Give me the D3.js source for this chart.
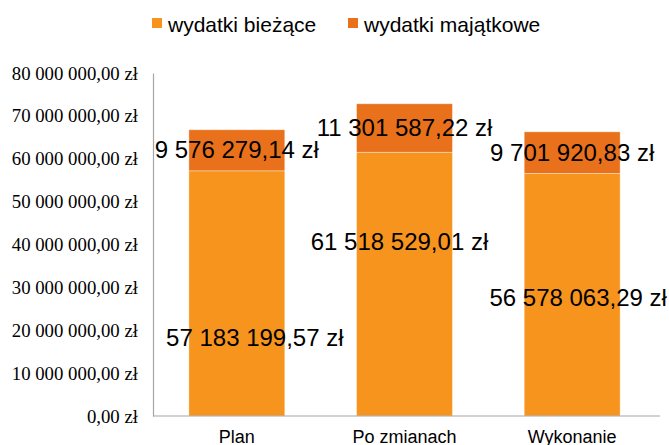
<!DOCTYPE html>
<html>
<head>
<meta charset="utf-8">
<script src="https://cdn.jsdelivr.net/npm/d3@7"></script>
<style>
  body { margin: 0; background: #fff; }
  svg { display: block; }
</style>
</head>
<body>
<svg id="chart"></svg>
<script>
// data
var categories = ["Plan", "Po zmianach", "Wykonanie"];
var seriesNames = ["wydatki bieżące", "wydatki majątkowe"];
var biezace = [57183199.57, 61518529.01, 56578063.29];
var majatkowe = [9576279.14, 11301587.22, 9701920.83];
var yTicks = [0, 10000000, 20000000, 30000000, 40000000, 50000000, 60000000, 70000000, 80000000];

// the labels of the bottom segment were moved by hand in the original (px)
var biezaceNudge = [[18, 45], [-5, -42], [6, 3]];

var colors = ["#F7941E", "#EA711B"];

var screen = {width: 669, height: 445};
var margins = {top: 73, left: 153, right: 13, bottom: 29};
var graph = {
    width: screen.width - margins.left - margins.right,
    height: screen.height - margins.top - margins.bottom
};

var pl = d3.formatLocale({decimal: ",", thousands: "\u00a0", grouping: [3], currency: ["", " zł"]});
var money = pl.format("$,.2f");

var svg = d3.select("#chart")
    .attr("width", screen.width)
    .attr("height", screen.height);

var xScale = d3.scaleBand()
    .domain(categories)
    .range([margins.left, margins.left + graph.width])
    .paddingInner(0.428)
    .paddingOuter(0.214);

var yScale = d3.scaleLinear()
    .domain([0, 80000000])
    .range([margins.top + graph.height, margins.top]);

// stacked data
var rows = categories.map(function(c, i) {
    return {cat: c, biezace: biezace[i], majatkowe: majatkowe[i]};
});
var stack = d3.stack().keys(["biezace", "majatkowe"]);
var layers = stack(rows);

// bars
var bars = svg.append("g").classed("bars", true);
bars.selectAll("g")
    .data(layers)
    .enter()
    .append("g")
    .attr("fill", function(d, i) { return colors[i]; })
    .selectAll("rect")
    .data(function(d) { return d; })
    .enter()
    .append("rect")
    .attr("x", function(d) { return xScale(d.data.cat); })
    .attr("width", xScale.bandwidth())
    .attr("y", function(d) { return yScale(d[1]); })
    .attr("height", function(d) { return yScale(d[0]) - yScale(d[1]); })
    .attr("stroke", "#fff")
    .attr("stroke-opacity", 0.45)
    .attr("stroke-width", 0.8);

// axes
var yAxis = d3.axisLeft(yScale)
    .tickValues(yTicks)
    .tickSize(0)
    .tickPadding(15)
    .tickFormat(money);

var yG = svg.append("g")
    .attr("transform", "translate(" + margins.left + ",0)")
    .call(yAxis);
yG.select(".domain").attr("stroke", "#A6A6A6").attr("stroke-width", 1.2);
yG.selectAll("text")
    .attr("font-family", "'Liberation Serif', 'Times New Roman', serif")
    .attr("font-size", 18.8)
    .attr("fill", "#000");

var xAxis = d3.axisBottom(xScale).tickSize(0).tickPadding(14);
var xG = svg.append("g")
    .attr("transform", "translate(0," + (margins.top + graph.height) + ")")
    .call(xAxis);
xG.select(".domain")
    .attr("d", "M" + margins.left + ",0H" + (margins.left + graph.width + 4))
    .attr("stroke", "#A6A6A6").attr("stroke-width", 1.2);
xG.selectAll("text")
    .attr("font-family", "'Liberation Sans', Arial, sans-serif")
    .attr("font-size", 18)
    .attr("fill", "#000");

// data labels
var labels = svg.append("g")
    .classed("labels", true)
    .attr("font-family", "'Liberation Sans', Arial, sans-serif")
    .attr("font-size", 24)
    .attr("fill", "#000")
    .attr("text-anchor", "middle");

labels.selectAll("text.maj")
    .data(layers[1])
    .enter()
    .append("text")
    .classed("maj", true)
    .attr("x", function(d) { return xScale(d.data.cat) + xScale.bandwidth() / 2; })
    .attr("y", function(d) { return (yScale(d[0]) + yScale(d[1])) / 2 + 8; })
    .text(function(d) { return money(d[1] - d[0]); });

labels.selectAll("text.bie")
    .data(layers[0])
    .enter()
    .append("text")
    .classed("bie", true)
    .attr("x", function(d, i) { return xScale(d.data.cat) + xScale.bandwidth() / 2 + biezaceNudge[i][0]; })
    .attr("y", function(d, i) { return (yScale(d[0]) + yScale(d[1])) / 2 + 8 + biezaceNudge[i][1]; })
    .text(function(d) { return money(d[1] - d[0]); });

// legend
var legendX = [152, 348];
var legend = svg.append("g")
    .classed("legend", true)
    .selectAll("g")
    .data(seriesNames)
    .enter()
    .append("g")
    .attr("transform", function(d, i) { return "translate(" + legendX[i] + ",18)"; });
legend.append("rect")
    .attr("width", 10)
    .attr("height", 10)
    .attr("fill", function(d, i) { return colors[i]; });
legend.append("text")
    .attr("x", 16)
    .attr("y", 14)
    .attr("font-family", "'Liberation Sans', Arial, sans-serif")
    .attr("font-size", 21)
    .attr("fill", "#000")
    .text(function(d) { return d; });
</script>
</body>
</html>
